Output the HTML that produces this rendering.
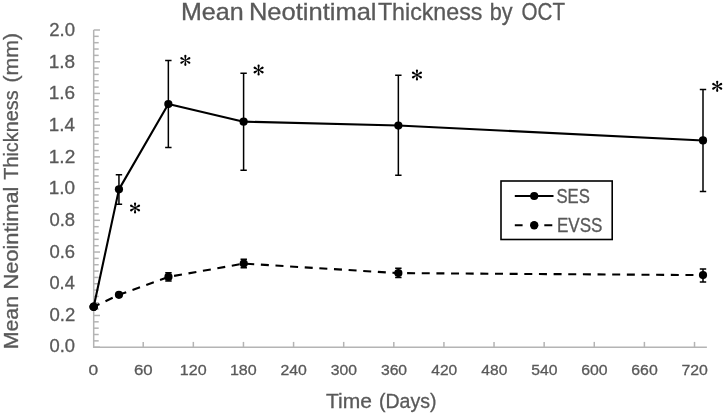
<!DOCTYPE html><html><head><meta charset="utf-8"><style>html,body{margin:0;padding:0;background:#fff;}svg{display:block;filter:grayscale(1);}text{font-family:"Liberation Sans",sans-serif;stroke:#595959;stroke-width:0.3px;}</style></head><body>
<svg width="724" height="414" viewBox="0 0 724 414">
<rect width="724" height="414" fill="#fff"/>
<text x="180.94" y="20.1" font-size="23.6" fill="#595959" textLength="62.68" lengthAdjust="spacingAndGlyphs">Mean</text>
<text x="248.91" y="20.1" font-size="23.6" fill="#595959" textLength="127.60" lengthAdjust="spacingAndGlyphs">Neotintimal</text>
<text x="377.88" y="20.1" font-size="23.6" fill="#595959" textLength="104.56" lengthAdjust="spacingAndGlyphs">Thickness</text>
<text x="489.71" y="20.1" font-size="23.6" fill="#595959" textLength="22.84" lengthAdjust="spacingAndGlyphs">by</text>
<text x="521.53" y="20.1" font-size="23.6" fill="#595959" textLength="43.45" lengthAdjust="spacingAndGlyphs">OCT</text>
<g stroke="#b4b4b4" stroke-width="1.5" fill="none">
<path d="M93.7,30.0V347.2H706.9"/>
<path d="M93.7,347.20H100"/>
<path d="M93.7,340.86H98.7"/>
<path d="M93.7,334.51H98.7"/>
<path d="M93.7,328.17H98.7"/>
<path d="M93.7,321.82H98.7"/>
<path d="M93.7,315.48H100"/>
<path d="M93.7,309.14H98.7"/>
<path d="M93.7,302.79H98.7"/>
<path d="M93.7,296.45H98.7"/>
<path d="M93.7,290.10H98.7"/>
<path d="M93.7,283.76H100"/>
<path d="M93.7,277.42H98.7"/>
<path d="M93.7,271.07H98.7"/>
<path d="M93.7,264.73H98.7"/>
<path d="M93.7,258.38H98.7"/>
<path d="M93.7,252.04H100"/>
<path d="M93.7,245.70H98.7"/>
<path d="M93.7,239.35H98.7"/>
<path d="M93.7,233.01H98.7"/>
<path d="M93.7,226.66H98.7"/>
<path d="M93.7,220.32H100"/>
<path d="M93.7,213.98H98.7"/>
<path d="M93.7,207.63H98.7"/>
<path d="M93.7,201.29H98.7"/>
<path d="M93.7,194.94H98.7"/>
<path d="M93.7,188.60H100"/>
<path d="M93.7,182.26H98.7"/>
<path d="M93.7,175.91H98.7"/>
<path d="M93.7,169.57H98.7"/>
<path d="M93.7,163.22H98.7"/>
<path d="M93.7,156.88H100"/>
<path d="M93.7,150.54H98.7"/>
<path d="M93.7,144.19H98.7"/>
<path d="M93.7,137.85H98.7"/>
<path d="M93.7,131.50H98.7"/>
<path d="M93.7,125.16H100"/>
<path d="M93.7,118.82H98.7"/>
<path d="M93.7,112.47H98.7"/>
<path d="M93.7,106.13H98.7"/>
<path d="M93.7,99.78H98.7"/>
<path d="M93.7,93.44H100"/>
<path d="M93.7,87.10H98.7"/>
<path d="M93.7,80.75H98.7"/>
<path d="M93.7,74.41H98.7"/>
<path d="M93.7,68.06H98.7"/>
<path d="M93.7,61.72H100"/>
<path d="M93.7,55.38H98.7"/>
<path d="M93.7,49.03H98.7"/>
<path d="M93.7,42.69H98.7"/>
<path d="M93.7,36.34H98.7"/>
<path d="M93.7,30.00H100"/>
<path d="M143.22,347.2V341.9"/>
<path d="M193.34,347.2V341.9"/>
<path d="M243.45,347.2V341.9"/>
<path d="M293.57,347.2V341.9"/>
<path d="M343.69,347.2V341.9"/>
<path d="M393.81,347.2V341.9"/>
<path d="M443.93,347.2V341.9"/>
<path d="M494.04,347.2V341.9"/>
<path d="M544.16,347.2V341.9"/>
<path d="M594.28,347.2V341.9"/>
<path d="M644.40,347.2V341.9"/>
<path d="M694.52,347.2V341.9"/>
</g>
<text x="49.48" y="352.40" font-size="17.9" fill="#595959" textLength="25.54" lengthAdjust="spacingAndGlyphs">0.0</text>
<text x="49.48" y="320.77" font-size="17.9" fill="#595959" textLength="25.76" lengthAdjust="spacingAndGlyphs">0.2</text>
<text x="49.49" y="289.13" font-size="17.9" fill="#595959" textLength="25.35" lengthAdjust="spacingAndGlyphs">0.4</text>
<text x="49.48" y="257.50" font-size="17.9" fill="#595959" textLength="25.63" lengthAdjust="spacingAndGlyphs">0.6</text>
<text x="49.48" y="225.86" font-size="17.9" fill="#595959" textLength="25.62" lengthAdjust="spacingAndGlyphs">0.8</text>
<text x="48.76" y="194.22" font-size="17.9" fill="#595959" textLength="26.28" lengthAdjust="spacingAndGlyphs">1.0</text>
<text x="48.75" y="162.59" font-size="17.9" fill="#595959" textLength="26.51" lengthAdjust="spacingAndGlyphs">1.2</text>
<text x="48.77" y="130.95" font-size="17.9" fill="#595959" textLength="26.08" lengthAdjust="spacingAndGlyphs">1.4</text>
<text x="48.75" y="99.32" font-size="17.9" fill="#595959" textLength="26.38" lengthAdjust="spacingAndGlyphs">1.6</text>
<text x="48.76" y="67.68" font-size="17.9" fill="#595959" textLength="26.37" lengthAdjust="spacingAndGlyphs">1.8</text>
<text x="49.27" y="36.05" font-size="17.9" fill="#595959" textLength="25.76" lengthAdjust="spacingAndGlyphs">2.0</text>
<text x="88.47" y="375.3" font-size="15.4" fill="#595959" textLength="9.66" lengthAdjust="spacingAndGlyphs">0</text>
<text x="133.96" y="375.3" font-size="15.4" fill="#595959" textLength="18.71" lengthAdjust="spacingAndGlyphs">60</text>
<text x="179.81" y="375.3" font-size="15.4" fill="#595959" textLength="26.85" lengthAdjust="spacingAndGlyphs">120</text>
<text x="229.93" y="375.3" font-size="15.4" fill="#595959" textLength="26.85" lengthAdjust="spacingAndGlyphs">180</text>
<text x="280.48" y="375.3" font-size="15.4" fill="#595959" textLength="26.41" lengthAdjust="spacingAndGlyphs">240</text>
<text x="330.79" y="375.3" font-size="15.4" fill="#595959" textLength="26.21" lengthAdjust="spacingAndGlyphs">300</text>
<text x="380.91" y="375.3" font-size="15.4" fill="#595959" textLength="26.21" lengthAdjust="spacingAndGlyphs">360</text>
<text x="431.27" y="375.3" font-size="15.4" fill="#595959" textLength="25.97" lengthAdjust="spacingAndGlyphs">420</text>
<text x="481.39" y="375.3" font-size="15.4" fill="#595959" textLength="25.97" lengthAdjust="spacingAndGlyphs">480</text>
<text x="531.23" y="375.3" font-size="15.4" fill="#595959" textLength="26.24" lengthAdjust="spacingAndGlyphs">540</text>
<text x="581.18" y="375.3" font-size="15.4" fill="#595959" textLength="26.42" lengthAdjust="spacingAndGlyphs">600</text>
<text x="631.29" y="375.3" font-size="15.4" fill="#595959" textLength="26.42" lengthAdjust="spacingAndGlyphs">660</text>
<text x="681.40" y="375.3" font-size="15.4" fill="#595959" textLength="26.43" lengthAdjust="spacingAndGlyphs">720</text>
<text x="325.94" y="407.9" font-size="19.7" fill="#595959" textLength="45.98" lengthAdjust="spacingAndGlyphs">Time</text>
<text x="378.99" y="407.9" font-size="19.7" fill="#595959" textLength="57.52" lengthAdjust="spacingAndGlyphs">(Days)</text>
<g transform="translate(18.1,0) rotate(-90)">
<text x="-349.25" y="0" font-size="19.7" fill="#595959" textLength="53.23" lengthAdjust="spacingAndGlyphs">Mean</text>
<text x="-289.59" y="0" font-size="19.7" fill="#595959" textLength="103.05" lengthAdjust="spacingAndGlyphs">Neointimal</text>
<text x="-179.75" y="0" font-size="19.7" fill="#595959" textLength="89.46" lengthAdjust="spacingAndGlyphs">Thickness</text>
<text x="-82.52" y="0" font-size="19.7" fill="#595959" textLength="49.53" lengthAdjust="spacingAndGlyphs">(mm)</text>
</g>
<g stroke="#000" stroke-width="1.5" fill="none">
<path d="M118.95,174.7V204.3M115.75,174.7H122.15M115.75,204.3H122.15"/>
<path d="M168.35,60.6V147.6M165.15,60.6H171.55M165.15,147.6H171.55"/>
<path d="M243.60,73.2V170.3M240.40,73.2H246.80M240.40,170.3H246.80"/>
<path d="M398.35,75.3V175.2M395.15,75.3H401.55M395.15,175.2H401.55"/>
<path d="M703.00,89.4V191.45M699.80,89.4H706.20M699.80,191.45H706.20"/>
<path d="M168.45,272.8V281.0M165.25,272.8H171.65M165.25,281.0H171.65"/>
<path d="M243.75,259.3V267.8M240.55,259.3H246.95M240.55,267.8H246.95"/>
<path d="M398.35,268.2V277.4M395.15,268.2H401.55M395.15,277.4H401.55"/>
<path d="M703.00,268.9V282.1M699.80,268.9H706.20M699.80,282.1H706.20"/>
</g>
<polyline points="93.70,306.80 118.95,189.35 168.35,104.05 243.60,121.65 398.35,125.55 703.00,140.45" fill="none" stroke="#000" stroke-width="2.1" stroke-linejoin="round"/>
<polyline points="93.70,306.80 118.95,294.80 168.45,276.90 243.75,263.60 398.35,273.10 703.00,275.10" fill="none" stroke="#000" stroke-width="2.1" stroke-dasharray="8 6.65" stroke-dashoffset="1.6"/>
<g fill="#000">
<circle cx="93.70" cy="306.80" r="4.3"/>
<circle cx="118.95" cy="189.35" r="4.1"/>
<circle cx="168.35" cy="104.05" r="4.1"/>
<circle cx="243.60" cy="121.65" r="4.1"/>
<circle cx="398.35" cy="125.55" r="4.1"/>
<circle cx="703.00" cy="140.45" r="4.1"/>
<circle cx="93.70" cy="306.80" r="4.3"/>
<circle cx="118.95" cy="294.80" r="4.1"/>
<circle cx="168.45" cy="276.90" r="4.1"/>
<circle cx="243.75" cy="263.60" r="4.1"/>
<circle cx="398.35" cy="273.10" r="4.1"/>
<circle cx="703.00" cy="275.10" r="4.1"/>
</g>
<path d="M135.27,207.95L136.17,203.50L133.93,203.50L134.83,207.95ZM136.17,203.50A1.12,1.12 0 1 0 133.93,203.50A1.12,1.12 0 1 0 136.17,203.50ZM135.16,207.76L131.76,204.76L130.64,206.69L134.94,208.14ZM131.76,204.76A1.12,1.12 0 1 0 130.64,206.69A1.12,1.12 0 1 0 131.76,204.76ZM134.94,207.76L130.64,209.21L131.76,211.14L135.16,208.14ZM130.64,209.21A1.12,1.12 0 1 0 131.76,211.14A1.12,1.12 0 1 0 130.64,209.21ZM134.83,207.95L133.93,212.40L136.17,212.40L135.27,207.95ZM133.93,212.40A1.12,1.12 0 1 0 136.17,212.40A1.12,1.12 0 1 0 133.93,212.40ZM134.94,208.14L138.34,211.14L139.46,209.21L135.16,207.76ZM138.34,211.14A1.12,1.12 0 1 0 139.46,209.21A1.12,1.12 0 1 0 138.34,211.14ZM135.16,208.14L139.46,206.69L138.34,204.76L134.94,207.76ZM139.46,206.69A1.12,1.12 0 1 0 138.34,204.76A1.12,1.12 0 1 0 139.46,206.69Z" fill="#000" fill-rule="nonzero"/>
<path d="M185.57,60.40L186.47,55.95L184.23,55.95L185.13,60.40ZM186.47,55.95A1.12,1.12 0 1 0 184.23,55.95A1.12,1.12 0 1 0 186.47,55.95ZM185.46,60.21L182.06,57.21L180.94,59.14L185.24,60.59ZM182.06,57.21A1.12,1.12 0 1 0 180.94,59.14A1.12,1.12 0 1 0 182.06,57.21ZM185.24,60.21L180.94,61.66L182.06,63.59L185.46,60.59ZM180.94,61.66A1.12,1.12 0 1 0 182.06,63.59A1.12,1.12 0 1 0 180.94,61.66ZM185.13,60.40L184.23,64.85L186.47,64.85L185.57,60.40ZM184.23,64.85A1.12,1.12 0 1 0 186.47,64.85A1.12,1.12 0 1 0 184.23,64.85ZM185.24,60.59L188.64,63.59L189.76,61.66L185.46,60.21ZM188.64,63.59A1.12,1.12 0 1 0 189.76,61.66A1.12,1.12 0 1 0 188.64,63.59ZM185.46,60.59L189.76,59.14L188.64,57.21L185.24,60.21ZM189.76,59.14A1.12,1.12 0 1 0 188.64,57.21A1.12,1.12 0 1 0 189.76,59.14Z" fill="#000" fill-rule="nonzero"/>
<path d="M258.82,70.00L259.72,65.55L257.48,65.55L258.38,70.00ZM259.72,65.55A1.12,1.12 0 1 0 257.48,65.55A1.12,1.12 0 1 0 259.72,65.55ZM258.71,69.81L255.31,66.81L254.19,68.74L258.49,70.19ZM255.31,66.81A1.12,1.12 0 1 0 254.19,68.74A1.12,1.12 0 1 0 255.31,66.81ZM258.49,69.81L254.19,71.26L255.31,73.19L258.71,70.19ZM254.19,71.26A1.12,1.12 0 1 0 255.31,73.19A1.12,1.12 0 1 0 254.19,71.26ZM258.38,70.00L257.48,74.45L259.72,74.45L258.82,70.00ZM257.48,74.45A1.12,1.12 0 1 0 259.72,74.45A1.12,1.12 0 1 0 257.48,74.45ZM258.49,70.19L261.89,73.19L263.01,71.26L258.71,69.81ZM261.89,73.19A1.12,1.12 0 1 0 263.01,71.26A1.12,1.12 0 1 0 261.89,73.19ZM258.71,70.19L263.01,68.74L261.89,66.81L258.49,69.81ZM263.01,68.74A1.12,1.12 0 1 0 261.89,66.81A1.12,1.12 0 1 0 263.01,68.74Z" fill="#000" fill-rule="nonzero"/>
<path d="M417.17,74.95L418.07,70.50L415.83,70.50L416.73,74.95ZM418.07,70.50A1.12,1.12 0 1 0 415.83,70.50A1.12,1.12 0 1 0 418.07,70.50ZM417.06,74.76L413.66,71.76L412.54,73.69L416.84,75.14ZM413.66,71.76A1.12,1.12 0 1 0 412.54,73.69A1.12,1.12 0 1 0 413.66,71.76ZM416.84,74.76L412.54,76.21L413.66,78.14L417.06,75.14ZM412.54,76.21A1.12,1.12 0 1 0 413.66,78.14A1.12,1.12 0 1 0 412.54,76.21ZM416.73,74.95L415.83,79.40L418.07,79.40L417.17,74.95ZM415.83,79.40A1.12,1.12 0 1 0 418.07,79.40A1.12,1.12 0 1 0 415.83,79.40ZM416.84,75.14L420.24,78.14L421.36,76.21L417.06,74.76ZM420.24,78.14A1.12,1.12 0 1 0 421.36,76.21A1.12,1.12 0 1 0 420.24,78.14ZM417.06,75.14L421.36,73.69L420.24,71.76L416.84,74.76ZM421.36,73.69A1.12,1.12 0 1 0 420.24,71.76A1.12,1.12 0 1 0 421.36,73.69Z" fill="#000" fill-rule="nonzero"/>
<path d="M717.42,86.30L718.32,81.85L716.08,81.85L716.98,86.30ZM718.32,81.85A1.12,1.12 0 1 0 716.08,81.85A1.12,1.12 0 1 0 718.32,81.85ZM717.31,86.11L713.91,83.11L712.79,85.04L717.09,86.49ZM713.91,83.11A1.12,1.12 0 1 0 712.79,85.04A1.12,1.12 0 1 0 713.91,83.11ZM717.09,86.11L712.79,87.56L713.91,89.49L717.31,86.49ZM712.79,87.56A1.12,1.12 0 1 0 713.91,89.49A1.12,1.12 0 1 0 712.79,87.56ZM716.98,86.30L716.08,90.75L718.32,90.75L717.42,86.30ZM716.08,90.75A1.12,1.12 0 1 0 718.32,90.75A1.12,1.12 0 1 0 716.08,90.75ZM717.09,86.49L720.49,89.49L721.61,87.56L717.31,86.11ZM720.49,89.49A1.12,1.12 0 1 0 721.61,87.56A1.12,1.12 0 1 0 720.49,89.49ZM717.31,86.49L721.61,85.04L720.49,83.11L717.09,86.11ZM721.61,85.04A1.12,1.12 0 1 0 720.49,83.11A1.12,1.12 0 1 0 721.61,85.04Z" fill="#000" fill-rule="nonzero"/>
<rect x="501" y="181" width="111.2" height="58.5" fill="#fff" stroke="#000" stroke-width="1.6"/>
<path d="M514.8,196H553.5" stroke="#000" stroke-width="2.1"/>
<circle cx="534.2" cy="196" r="4.1" fill="#000"/>
<path d="M514.8,225.3H522.6M544.3,225.3H552.3" stroke="#000" stroke-width="2.1"/>
<circle cx="534.2" cy="225.3" r="4.2" fill="#000"/>
<text x="556.44" y="202.7" font-size="19.7" fill="#595959" textLength="33.43" lengthAdjust="spacingAndGlyphs">SES</text>
<text x="557.00" y="231.7" font-size="19.7" fill="#595959" textLength="45.48" lengthAdjust="spacingAndGlyphs">EVSS</text>
</svg></body></html>
